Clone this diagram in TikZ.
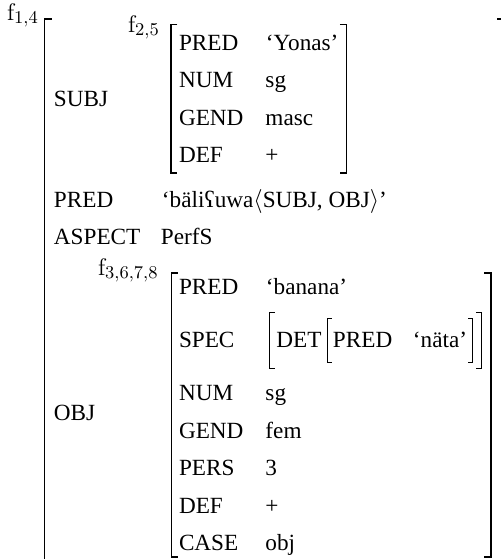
\documentclass[tikz,border=0pt]{standalone}
\usepackage[no-math]{fontspec}
\setmainfont{Liberation Serif}
\begin{document}
\begin{tikzpicture}[x=0.5pt,y=-0.5pt,
  every node/.style={inner sep=0pt,outer sep=0pt,anchor=base west,font=\fontsize{11.6}{14}\selectfont},
  brk/.style={line width=0.65pt},
  sbrk/.style={line width=0.5pt},
  flabel/.style={font=\fontsize{12.5}{15}\selectfont}]
\useasboundingbox (0,0) rectangle (501,559);
\clip (0,0) rectangle (501,559);
% outer matrix
\node[flabel] (f14) at (7,20) {$\mathrm{f}_{1,4}$};
\draw[brk] (52,19) -- (44.5,19) -- (44.5,600);
\draw[brk] (497.5,19) -- (505,19) -- (505,600);
\node (subj) at (54,106) {SUBJ};
\node (pred0) at (54,207) {PRED};
\node (predv0) at (162,207) {‘bäliʕuwa$\langle$SUBJ, OBJ$\rangle$’};
\node (asp) at (54,244.5) {ASPECT};
\node (aspv) at (161,244.5) {PerfS};
\node (obj) at (54,420) {OBJ};
% subject f-structure
\node[flabel] (f25) at (128,32) {$\mathrm{f}_{2,5}$};
\draw[brk] (177.5,24.5) -- (171,24.5) -- (171,173) -- (177.5,173);
\draw[brk] (340,24.5) -- (346.5,24.5) -- (346.5,173) -- (340,173);
\node (s1) at (179,50) {PRED};   \node (s1v) at (266,50) {‘Yonas’};
\node (s2) at (179,87.5) {NUM};  \node (s2v) at (265.5,87.5) {sg};
\node (s3) at (179,125) {GEND};  \node (s3v) at (265.5,125) {masc};
\node (s4) at (179,162.5) {DEF}; \node (s4v) at (265.5,162.5) {+};
% object f-structure
\node[flabel] (f3678) at (98,275) {$\mathrm{f}_{3,6,7,8}$};
\draw[brk] (178,273) -- (171.5,273) -- (171.5,557) -- (178,557);
\draw[brk] (484.5,273) -- (491,273) -- (491,557) -- (484.5,557);
\node (o1) at (179,294) {PRED};  \node (o1v) at (266,294) {‘banana’};
\node (o2) at (179,347) {SPEC};
\draw[sbrk] (275,312) -- (269.5,312) -- (269.5,368) -- (275,368);
\node (det) at (276.5,347) {DET};
\draw[sbrk] (332,318) -- (327.5,318) -- (327.5,362) -- (332,362);
\node (dp) at (333,347) {PRED};
\node (dpv) at (413,347) {‘näta’};
\draw[sbrk] (468.5,318) -- (473,318) -- (473,362) -- (468.5,362);
\draw[sbrk] (476.5,312) -- (482,312) -- (482,368) -- (476.5,368);
\node (o3) at (179,400.5) {NUM};  \node (o3v) at (265.5,400.5) {sg};
\node (o4) at (179,438) {GEND};   \node (o4v) at (265.5,438) {fem};
\node (o5) at (179,475.5) {PERS}; \node (o5v) at (265.5,475.5) {3};
\node (o6) at (179,513) {DEF};    \node (o6v) at (265.5,513) {+};
\node (o7) at (179,550.5) {CASE}; \node (o7v) at (265.5,550.5) {obj};
\end{tikzpicture}
\end{document}
